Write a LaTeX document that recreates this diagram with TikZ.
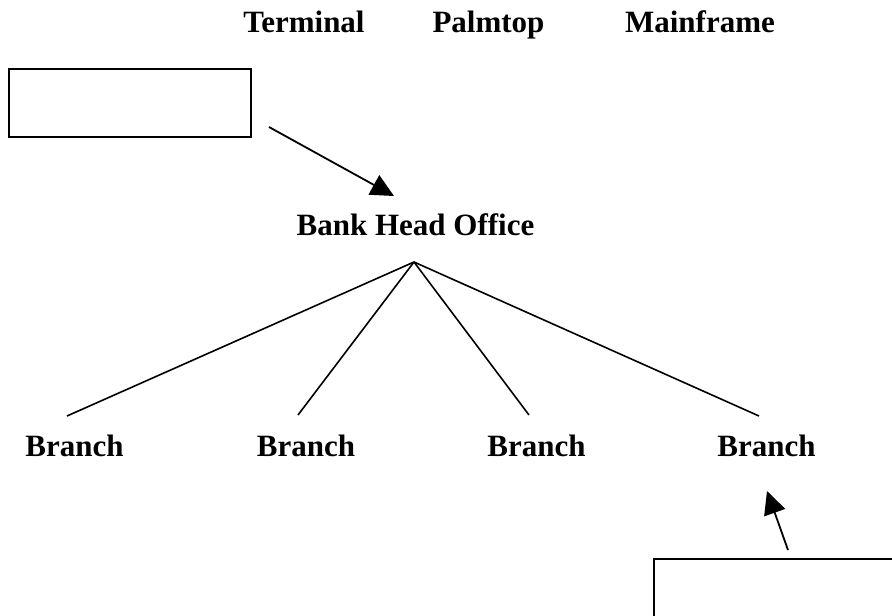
\documentclass[tikz,border=0pt]{standalone}
\usepackage{fontspec}
\setmainfont{Liberation Serif}
\usepackage{tikz}
\usetikzlibrary{positioning,arrows.meta}

\tikzset{
    lbl/.style={inner sep=0pt, anchor=base, font=\fontsize{31}{37}\selectfont\bfseries},
    box/.style={draw, line width=2pt, inner sep=0pt},
    link/.style={line width=1.6pt},
    arr/.style={line width=1.8pt, -{Triangle[length=23pt, width=22pt]}}
}

\begin{document}
\begin{tikzpicture}[x=1pt, y=-1pt]
    \clip (0,0) rectangle (892,616);

    % Devices
    \node[lbl] (terminal) at (304,32) {Terminal};
    \node[lbl] (palmtop) at (488.5,32) {Palmtop};
    \node[lbl] (mainframe) at (700,32) {Mainframe};

    % Empty boxes
    \node[box, minimum width=242pt, minimum height=68pt] (topbox) at (130,103) {};
    \node[box, anchor=north west, minimum width=300pt, minimum height=120pt] (lowbox) at (653,558) {};

    % Head office and branches
    \node[lbl] (office) at (415.5,235) {Bank Head Office};
    \node[lbl] (branch1) at (74.5,456) {Branch};
    \node[lbl] (branch2) at (306,456) {Branch};
    \node[lbl] (branch3) at (536.5,456) {Branch};
    \node[lbl] (branch4) at (766.5,456) {Branch};

    \coordinate (apex) at (414,262);
    \coordinate (end1) at (67,416);
    \coordinate (end2) at (298,415);
    \coordinate (end3) at (529,415);
    \coordinate (end4) at (759,416);
    \foreach \i in {1,...,4}
        \draw[link] (apex) -- (end\i);

    % Arrows
    \coordinate (topfrom) at (269,127);
    \coordinate (topto) at (394,196);
    \draw[arr] (topfrom) -- (topto);
    \coordinate (lowfrom) at (788,550);
    \coordinate (lowto) at (767,491);
    \draw[arr] (lowfrom) -- (lowto);
\end{tikzpicture}
\end{document}
